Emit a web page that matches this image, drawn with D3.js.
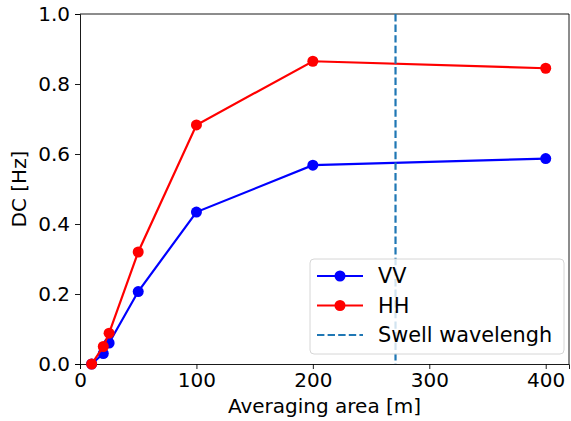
<!DOCTYPE html>
<html>
<head>
<meta charset="utf-8">
<script src="https://cdn.jsdelivr.net/npm/d3@7"></script>
<style>
  body { margin: 0; background: #fff; }
  text { font-family: "DejaVu Sans", sans-serif; fill: #000; }
</style>
</head>
<body>
<div id="chart"></div>
<script>
// data
var area = [10, 20, 25, 50, 100, 200, 400];
var vv = [0.0, 0.03, 0.06, 0.207, 0.434, 0.568, 0.587];
var hh = [0.0, 0.05, 0.088, 0.32, 0.683, 0.865, 0.845];
var swell = 271;
var xTicks = [0, 100, 200, 300, 400];
var yTicks = [0.0, 0.2, 0.4, 0.6, 0.8, 1.0];

var W = 571, H = 421;
var margin = {left: 80, right: 2, top: 14, bottom: 57};
var fs = "20px";

var svg = d3.select("#chart").append("svg")
  .attr("width", W)
  .attr("height", H);

var x = d3.scaleLinear().domain([0, 420]).range([margin.left, W - margin.right]);
var y = d3.scaleLinear().domain([0, 1]).range([H - margin.bottom, margin.top]);

//坐标轴
var xAxis = svg.append("g")
  .attr("transform", "translate(0," + (H - margin.bottom) + ")")
  .call(d3.axisBottom(x).tickValues(xTicks).tickFormat(d3.format("d")).tickSize(5).tickPadding(4));
var yAxis = svg.append("g")
  .attr("transform", "translate(" + margin.left + ",0)")
  .call(d3.axisLeft(y).tickValues(yTicks).tickFormat(d3.format(".1f")).tickSize(5).tickPadding(5));

[xAxis, yAxis].forEach(function(a) {
  a.selectAll("text").style("font-size", fs).attr("fill", "#000");
  a.selectAll("line").attr("stroke", "#000").attr("stroke-width", 0.9);
  a.select(".domain").attr("stroke", "#000").attr("stroke-width", 0.9);
});

// top and right spines
svg.append("line")
  .attr("x1", x(0)).attr("x2", x(420)).attr("y1", y(1)).attr("y2", y(1))
  .attr("stroke", "#000").attr("stroke-width", 0.9);
svg.append("line")
  .attr("x1", x(420)).attr("x2", x(420)).attr("y1", y(1)).attr("y2", y(0))
  .attr("stroke", "#000").attr("stroke-width", 0.9);

// axis labels
svg.append("text")
  .attr("x", (x(0) + x(420)) / 2)
  .attr("y", 413)
  .attr("text-anchor", "middle")
  .style("font-size", fs)
  .text("Averaging area [m]");
svg.append("text")
  .attr("transform", "translate(26," + (y(0.5)) + ") rotate(-90)")
  .attr("text-anchor", "middle")
  .style("font-size", fs)
  .text("DC [Hz]");

var line = d3.line()
  .x(function(d) { return x(d[0]); })
  .y(function(d) { return y(d[1]); });

var series = [
  {name: "VV", color: "#0000ff", values: vv},
  {name: "HH", color: "#ff0000", values: hh}
];

var plot = svg.append("g");
series.forEach(function(s) {
  var pts = area.map(function(a, i) { return [a, s.values[i]]; });
  plot.append("path")
    .datum(pts)
    .attr("d", line)
    .attr("fill", "none")
    .attr("stroke", s.color)
    .attr("stroke-width", 2.2);
  plot.selectAll(".dot-" + s.name)
    .data(pts)
    .enter()
    .append("circle")
    .attr("cx", function(d) { return x(d[0]); })
    .attr("cy", function(d) { return y(d[1]); })
    .attr("r", 5.5)
    .attr("fill", s.color);
});

// swell wavelength
plot.append("line")
  .attr("x1", x(swell)).attr("x2", x(swell))
  .attr("y1", y(1)).attr("y2", y(0))
  .attr("stroke", "#1f77b4")
  .attr("stroke-width", 2.2)
  .attr("stroke-dasharray", "7.4,3.2");

// legend
var lg = svg.append("g").attr("transform", "translate(310,259)");
lg.append("rect")
  .attr("width", 254).attr("height", 95)
  .attr("rx", 4)
  .attr("fill", "#fff").attr("fill-opacity", 0.8)
  .attr("stroke", "#d6d6d6");
var items = [
  {name: "VV", color: "#0000ff", dash: null, dot: true},
  {name: "HH", color: "#ff0000", dash: null, dot: true},
  {name: "Swell wavelengh", color: "#1f77b4", dash: "7.4,3.2", dot: false}
];
items.forEach(function(it, i) {
  var cy = 17 + i * 29.5;
  lg.append("line")
    .attr("x1", 7).attr("x2", 53).attr("y1", cy).attr("y2", cy)
    .attr("stroke", it.color).attr("stroke-width", 2.2)
    .attr("stroke-dasharray", it.dash);
  if (it.dot) {
    lg.append("circle").attr("cx", 30).attr("cy", cy).attr("r", 5.5).attr("fill", it.color);
  }
  lg.append("text")
    .attr("x", 68).attr("y", cy + 7)
    .style("font-size", "20.8px")
    .text(it.name);
});
</script>
</body>
</html>
